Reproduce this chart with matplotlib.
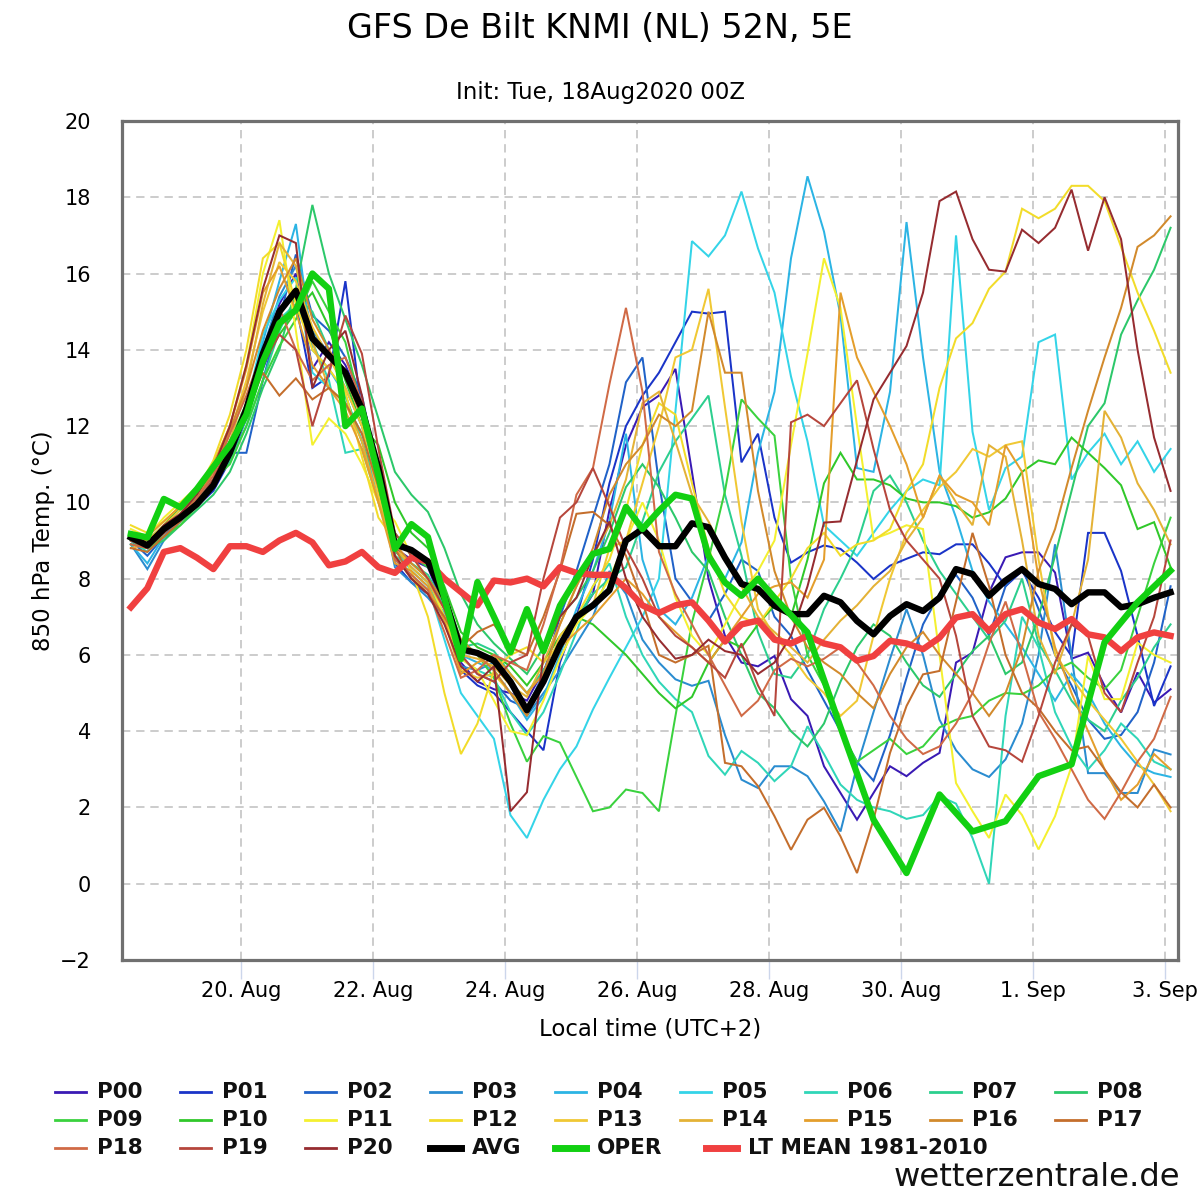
import numpy as np
import matplotlib
matplotlib.use("Agg")
import matplotlib.pyplot as plt
from matplotlib.lines import Line2D

# ---------------- texts ----------------
title = "GFS De Bilt KNMI (NL) 52N, 5E"
subtitle = "Init: Tue, 18Aug2020 00Z"
x_label = "Local time (UTC+2)"
y_label = "850 hPa Temp. (°C)"
watermark = "wetterzentrale.de"

# ---------------- time axis (hours since 18 Aug 2020 00:00 local) ----------------
utc_offset_h = 2
member_lead_h = np.arange(6, 385, 6)
oper_lead_h = np.concatenate([np.arange(6, 241, 6), np.arange(252, 385, 12)])

x_tick_hours = [48, 96, 144, 192, 240, 288, 336, 384]
x_tick_labels = ["20. Aug", "22. Aug", "24. Aug", "26. Aug", "28. Aug", "30. Aug", "1. Sep", "3. Sep"]
y_ticks = [-2, 0, 2, 4, 6, 8, 10, 12, 14, 16, 18, 20]
y_tick_labels = ["\u22122", "0", "2", "4", "6", "8", "10", "12", "14", "16", "18", "20"]

# ---------------- members ----------------
member_names = ["P00", "P01", "P02", "P03", "P04", "P05", "P06", "P07", "P08", "P09", "P10",
                "P11", "P12", "P13", "P14", "P15", "P16", "P17", "P18", "P19", "P20"]
member_colors = ["#3a1ab4", "#1a34c8", "#2062c8", "#2a8cd0", "#2cb4e4", "#34d4e8", "#30d6b8",
                 "#2ccf8e", "#2cc86a", "#3ad23e", "#30c82a", "#f4f030", "#f2dc2a", "#f0c834",
                 "#e4b236", "#e49e2c", "#d28a2c", "#c46e2c", "#d06a46", "#b6463c", "#962c30"]

p00 = [9.0, 8.8, 9.3, 9.7, 10.0, 10.5, 11.2, 12.3,
       13.8, 15.2, 16.0, 13.5, 14.2, 13.6, 12.6, 11.0,
       8.8, 8.5, 8.3, 7.2, 5.8, 5.3, 5.1, 5.0,
       4.8, 5.6, 6.3, 6.9, 7.6, 9.8, 11.5, 12.5,
       12.8, 13.5, 10.8, 8.0, 6.5, 5.8, 5.7, 5.97,
       4.84, 4.4, 3.08, 2.38, 1.68, 2.38, 3.08, 2.82,
       3.17, 3.43, 5.8, 6.06, 7.64, 8.56, 8.69, 8.69,
       8.16, 5.9, 6.06, 5.19, 4.49, 5.54, 4.75, 5.1]
p01 = [9.1, 8.9, 9.2, 9.5, 9.9, 10.3, 11.1, 12.2,
       13.5, 14.6, 15.2, 13.0, 13.3, 15.8, 12.3, 10.6,
       8.4, 7.9, 7.6, 7.0, 5.6, 5.2, 5.0, 4.5,
       4.0, 3.5, 5.8, 7.0, 8.5, 10.5, 12.0, 12.8,
       13.4, 14.2, 15.0, 14.95, 15.0, 11.05, 11.8, 9.6,
       8.42, 8.69, 8.87, 8.78, 8.42, 7.99, 8.34, 8.52,
       8.69, 8.64, 8.9, 8.9, 8.4, 7.8, 8.2, 7.5,
       6.6, 5.97, 9.2, 9.2, 8.2, 6.5, 4.66, 5.7]
p02 = [9.0, 8.6, 9.1, 9.6, 10.0, 10.6, 11.3, 11.3,
       13.2, 14.8, 16.5, 14.9, 14.5, 13.8, 12.8, 10.8,
       8.6, 8.0, 7.6, 7.4, 6.0, 5.5, 5.3, 4.8,
       4.6, 5.5, 7.0, 8.2, 9.6, 11.0, 13.15, 13.8,
       10.5, 8.0, 7.4, 6.9, 7.6, 8.5, 8.2, 7.0,
       6.5, 5.6, 4.8, 4.0, 3.2, 2.7, 3.9, 5.4,
       6.8, 7.6, 8.1, 7.5, 6.5, 7.8, 8.3, 7.2,
       6.0, 5.2, 4.3, 3.8, 3.9, 4.5, 5.8, 7.8]
p03 = [8.9, 8.25, 9.0, 9.5, 9.9, 10.5, 11.2, 12.3,
       14.0, 15.4, 16.2, 14.5, 13.9, 13.0, 12.0, 10.4,
       8.3, 7.9, 7.5, 7.0, 5.7, 5.6, 5.8, 5.2,
       4.4, 5.0, 5.6, 6.3, 7.0, 8.2, 7.6, 6.4,
       5.8, 5.36, 5.19, 5.32, 3.9, 2.73, 2.51, 3.08,
       3.08, 2.82, 2.16, 1.37, 3.08, 4.5, 5.9, 7.2,
       6.0, 4.3, 3.5, 3.0, 2.8, 3.26, 4.2, 6.0,
       8.9, 5.97, 2.9, 2.9, 2.38, 2.38, 3.52, 3.39]
p04 = [8.9, 8.4, 9.1, 9.5, 9.9, 10.4, 11.3, 12.6,
       14.2, 15.8, 17.3, 14.0, 13.5, 12.8, 11.6, 10.2,
       8.5, 8.1, 7.7, 7.1, 6.0, 5.8, 5.6, 5.0,
       4.3, 4.9, 6.0, 7.2, 8.2, 9.5, 11.8, 8.5,
       7.2, 6.8, 7.5, 8.6, 8.0, 8.95, 11.3, 12.9,
       16.4, 18.55, 17.1, 14.9, 10.9, 10.8, 12.9, 17.35,
       13.8, 10.8, 9.6, 8.2, 7.4, 6.8, 6.2, 5.5,
       4.8, 5.5, 5.0, 4.2, 3.6, 3.1, 2.9, 2.8]
p05 = [9.2, 8.8, 9.4, 9.8, 10.1, 10.6, 11.4, 12.5,
       14.4, 15.3, 15.9, 13.4, 13.0, 12.6, 11.8, 10.5,
       8.8, 8.2, 7.8, 6.4, 5.0, 4.4, 3.8, 1.8,
       1.2, 2.2, 3.0, 3.6, 4.57, 5.4, 6.2, 7.0,
       8.0, 12.4, 16.85, 16.45, 17.0, 18.15, 16.66, 15.5,
       13.3, 11.6, 9.4, 9.0, 8.6, 9.2, 9.8, 10.3,
       10.6, 10.45, 17.0, 11.85, 9.8, 10.9, 11.2, 14.2,
       14.4, 10.6, 11.3, 11.8, 11.0, 11.6, 10.8, 11.4]
p06 = [9.0, 8.7, 9.2, 9.6, 10.0, 10.4, 11.2, 12.2,
       13.6, 14.8, 15.2, 14.2, 13.2, 11.3, 11.4, 10.0,
       8.6, 8.3, 7.9, 7.0, 5.9, 5.6, 5.4, 4.5,
       3.9, 4.5, 5.5, 6.6, 7.8, 8.4, 7.0, 6.0,
       5.3, 4.84, 4.5, 3.35, 2.86, 3.48, 3.17, 2.69,
       3.08, 4.13, 3.4, 2.6, 2.2, 2.0, 1.9, 1.7,
       1.8, 2.3, 2.1, 1.2, 0.0, 4.4, 7.0, 6.2,
       4.5, 3.6, 3.0, 3.5, 4.2, 3.8, 3.2, 3.0]
p07 = [9.1, 8.9, 9.3, 9.7, 10.1, 10.5, 11.1, 12.0,
       13.2, 14.5, 15.4, 15.0, 14.0, 12.8, 11.6, 10.4,
       8.7, 8.4, 8.1, 7.3, 6.2, 6.3, 6.1, 5.5,
       5.0, 5.6, 6.2, 7.0, 7.6, 8.0, 8.3, 9.5,
       10.8, 11.6, 12.2, 12.8, 10.2, 8.6, 6.6, 5.5,
       5.4, 6.0, 7.2, 8.0, 8.9, 10.3, 10.7, 10.0,
       9.0, 8.2, 7.6, 7.0, 6.4, 6.9, 8.0, 6.3,
       5.6, 4.8, 4.3, 4.0, 4.8, 5.4, 6.2, 6.8]
p08 = [9.0, 8.8, 9.0, 9.4, 9.8, 10.2, 10.8, 11.8,
       13.0, 14.0, 15.6, 17.8, 16.0, 14.8, 13.6, 12.2,
       10.8, 10.2, 9.75, 8.8, 7.6, 6.8, 6.3, 5.9,
       5.5, 6.2, 7.0, 7.5, 8.2, 9.2, 10.4, 11.0,
       10.4, 9.6, 8.7, 8.2, 7.0, 6.0, 5.0, 4.6,
       4.0, 3.6, 4.2, 5.3, 6.2, 6.8, 6.5, 5.8,
       5.2, 4.9, 5.5, 6.1, 6.5, 5.5, 5.8, 7.0,
       8.6, 10.3, 12.0, 12.6, 14.4, 15.3, 16.1, 17.2]
p09 = [8.9, 8.8, 9.1, 9.4, 9.9, 10.6, 11.0, 12.0,
       13.2, 14.1, 14.8, 15.8, 15.0, 14.2, 12.4, 10.9,
       9.2, 8.6, 8.3, 7.6, 6.4, 6.0, 5.4, 4.2,
       3.2, 3.87, 3.7, 2.8, 1.9, 2.0, 2.47, 2.38,
       1.9, 4.4, 6.85, 8.5, 10.3, 12.7, 12.2, 11.75,
       8.0, 6.0, 5.2, 4.0, 3.2, 3.5, 3.8, 3.4,
       3.6, 4.1, 4.3, 4.4, 4.8, 5.0, 4.97, 5.2,
       5.6, 5.8, 5.4, 5.1, 5.6, 7.0, 8.4, 9.6]
p10 = [9.1, 9.0, 9.4, 9.9, 10.3, 10.9, 11.6, 12.6,
       13.7, 14.4, 15.0, 15.5, 14.6, 13.2, 12.0, 11.5,
       10.0, 9.2, 8.8, 7.8, 6.6, 6.2, 6.0, 5.7,
       5.2, 5.8, 6.5, 7.0, 6.8, 6.4, 6.0, 5.5,
       5.0, 4.6, 4.9, 5.8, 6.4, 6.2, 6.8, 7.3,
       7.0, 8.5, 10.5, 11.3, 10.6, 10.6, 10.45, 10.1,
       10.0, 10.0, 9.9, 9.6, 9.74, 10.1, 10.8, 11.1,
       11.0, 11.7, 11.3, 10.9, 10.45, 9.3, 9.48, 8.3]
p11 = [9.3, 9.1, 9.6, 10.0, 10.4, 11.0, 12.0, 13.6,
       16.0, 17.4, 14.5, 11.5, 12.2, 11.8, 11.0, 10.0,
       9.5, 8.6, 8.0, 7.0, 5.9, 5.6, 4.8, 4.0,
       3.9, 4.8, 5.9, 6.8, 7.3, 8.0, 9.0, 10.0,
       9.0, 7.5, 6.5, 6.0, 6.8, 7.6, 8.2, 9.0,
       11.5, 13.9, 16.4, 15.1, 12.0, 9.04, 9.2, 9.4,
       9.3, 6.0, 2.64, 1.9, 1.2, 2.34, 1.8, 0.9,
       1.77, 3.08, 5.97, 4.84, 4.84, 6.32, 6.0, 5.8]
p12 = [9.4, 9.2, 9.5, 9.9, 10.3, 11.1, 12.3, 14.0,
       16.4, 16.8, 15.2, 14.0, 13.5, 12.9, 11.2, 9.6,
       9.0, 8.2, 7.0, 5.0, 3.4, 4.2, 5.6, 6.0,
       6.2, 5.8, 6.3, 7.0, 7.8, 8.5, 9.8, 11.5,
       12.6, 12.3, 10.5, 8.8, 7.6, 7.0, 6.8, 7.4,
       8.0, 8.8, 9.2, 8.6, 8.9, 9.0, 9.3, 10.3,
       11.0, 13.0, 14.3, 14.7, 15.6, 16.05, 17.7, 17.45,
       17.7, 18.3, 18.3, 17.9, 16.7, 15.5, 14.5, 13.4]
p13 = [9.2, 9.0, 9.4, 9.8, 10.2, 10.9, 11.8, 13.2,
       15.0, 16.3, 15.8, 14.6, 13.8, 13.0, 12.0, 10.2,
       8.6, 8.0, 7.7, 7.0, 5.6, 5.4, 5.5, 5.0,
       4.6, 5.4, 6.5, 7.0, 7.3, 8.8, 9.0, 10.5,
       12.0, 13.8, 14.0, 15.6, 12.5, 9.5, 7.2, 6.5,
       6.0, 5.4, 5.0, 4.4, 4.8, 6.5, 8.0, 9.2,
       9.8, 10.4, 10.8, 11.4, 11.2, 11.5, 11.6, 8.5,
       6.0, 5.4, 4.8, 4.3, 3.8, 3.2, 2.6, 1.9]
p14 = [8.8, 8.9, 9.2, 9.6, 10.0, 10.5, 11.6, 13.0,
       15.2, 16.8, 16.2, 14.2, 13.0, 12.6, 11.6, 10.0,
       8.8, 8.3, 7.9, 7.2, 6.0, 5.9, 5.7, 5.2,
       4.9, 5.8, 6.8, 7.8, 8.6, 9.4, 10.6, 12.6,
       12.9, 11.6, 10.2, 9.5, 8.6, 7.8, 7.0, 6.6,
       6.2, 5.8, 6.4, 6.9, 7.3, 7.8, 8.2, 9.0,
       9.6, 10.7, 10.0, 9.4, 11.5, 11.2, 9.0, 6.5,
       5.5, 6.8, 8.5, 12.4, 11.7, 10.5, 9.8, 8.9]
p15 = [9.0, 9.1, 9.5, 9.9, 10.3, 11.0, 12.0, 13.5,
       15.5, 16.2, 15.0, 13.6, 13.0, 12.4, 11.4, 10.0,
       8.4, 8.2, 7.8, 6.9, 5.5, 5.8, 6.0, 5.5,
       5.0, 5.5, 6.2, 6.6, 7.0, 7.5, 8.0, 7.6,
       7.0, 6.6, 6.2, 5.8, 6.4, 7.0, 7.6, 7.8,
       7.9, 7.5, 8.5, 15.5, 13.8, 12.9, 12.0, 11.0,
       9.6, 10.7, 10.2, 10.0, 9.4, 11.5, 10.8, 8.0,
       6.2, 5.0, 4.0, 3.0, 2.2, 2.6, 3.4, 3.0]
p16 = [9.1, 9.0, 9.3, 9.7, 10.1, 10.8, 11.9, 13.0,
       14.5, 15.6, 16.4, 14.8, 14.0, 13.3, 12.2, 10.6,
       8.9, 8.4, 8.0, 7.4, 6.4, 6.0, 5.6, 5.0,
       4.4, 5.5, 6.8, 7.8, 8.8, 10.2, 11.0, 11.5,
       12.3, 12.0, 12.4, 15.0, 13.4, 13.4, 10.3, 8.2,
       7.0, 6.2, 5.8, 5.5, 5.0, 4.6, 5.5, 6.2,
       6.6, 6.0, 5.5, 5.0, 4.4, 5.0, 6.2, 8.2,
       9.3, 10.9, 12.4, 13.8, 15.1, 16.7, 17.0, 17.5]
p17 = [8.8, 8.7, 9.1, 9.5, 10.0, 10.6, 11.6, 12.4,
       13.4, 12.8, 13.25, 12.7, 13.0, 12.6, 11.8, 10.4,
       8.8, 8.0, 7.6, 7.0, 6.2, 6.6, 6.8, 6.2,
       6.0, 7.0, 8.2, 9.7, 9.75, 9.4, 8.6, 7.4,
       6.0, 5.8, 6.0, 6.24, 3.17, 3.08, 2.56, 1.77,
       0.89, 1.68, 1.99, 1.24, 0.28, 1.68, 3.43, 4.66,
       5.49, 5.58, 7.4, 9.2, 7.8, 6.0, 5.0, 4.6,
       4.0, 3.5, 3.6, 3.0, 2.4, 2.0, 2.6, 2.0]
p18 = [8.9, 8.8, 9.2, 9.6, 10.1, 10.7, 11.8, 12.8,
       14.0, 15.1, 14.0, 13.2, 13.6, 13.8, 12.6, 10.8,
       8.5, 8.1, 7.7, 6.6, 5.4, 5.6, 6.0, 5.8,
       5.6, 6.8, 8.25, 10.2, 10.9, 13.1, 15.1, 12.9,
       8.7, 7.6, 6.8, 6.0, 5.2, 4.4, 4.8, 5.6,
       5.9, 5.7, 5.9, 6.2, 5.8, 5.2, 4.4, 3.8,
       3.4, 3.6, 4.2, 5.0, 6.3, 7.4, 6.0, 4.5,
       3.8, 3.0, 2.2, 1.7, 2.4, 3.2, 3.8, 4.9]
p19 = [9.0, 8.8, 9.2, 9.6, 10.0, 10.6, 11.5, 12.4,
       13.6, 14.4, 14.0, 12.0, 13.4, 14.9, 13.9, 11.4,
       9.2, 8.6, 8.0, 7.2, 6.0, 5.5, 5.3, 5.8,
       6.0, 8.0, 9.6, 10.0, 10.9, 9.9, 8.8, 8.0,
       7.0, 6.5, 6.2, 5.8, 5.4, 6.3, 5.2, 4.4,
       12.1, 12.3, 12.0, 12.6, 13.2, 11.4, 9.8, 9.0,
       8.5, 8.0, 6.5, 4.4, 3.6, 3.5, 3.2, 4.4,
       5.8, 6.8, 6.5, 5.0, 4.5, 5.8, 7.0, 9.0]
p20 = [9.1, 8.9, 9.4, 9.7, 10.2, 10.9, 12.0, 13.6,
       15.6, 17.0, 16.8, 13.0, 14.0, 14.5, 12.8, 10.6,
       8.6, 8.0, 7.6, 6.8, 5.7, 5.3, 5.7, 1.9,
       2.4, 6.0, 7.0, 7.5, 8.6, 9.5, 8.0, 7.0,
       6.4, 5.9, 6.0, 6.4, 6.1, 6.0, 5.5, 5.8,
       6.5, 7.8, 9.47, 9.5, 11.1, 12.7, 13.4, 14.1,
       15.5, 17.9, 18.15, 16.9, 16.1, 16.05, 17.15, 16.8,
       17.2, 18.2, 16.6, 18.0, 16.9, 14.0, 11.7, 10.3]

members = [p00, p01, p02, p03, p04, p05, p06, p07, p08, p09, p10,
           p11, p12, p13, p14, p15, p16, p17, p18, p19, p20]

avg = [9.08, 8.87, 9.3, 9.6, 9.95, 10.45, 11.3, 12.45,
       13.9, 15.0, 15.55, 14.3, 13.85, 13.4, 12.45, 10.9,
       8.9, 8.75, 8.45, 7.5, 6.15, 6.05, 5.85, 5.3,
       4.55, 5.3, 6.25, 7.0, 7.3, 7.7, 9.0, 9.3,
       8.85, 8.85, 9.45, 9.35, 8.55, 7.86, 7.73, 7.29,
       7.07, 7.07, 7.55, 7.38, 6.89, 6.54, 7.02, 7.33,
       7.15, 7.5, 8.25, 8.12, 7.55, 7.95, 8.25, 7.86,
       7.73, 7.33, 7.64, 7.64, 7.25, 7.33, 7.5, 7.64]

oper = [9.17, 9.08, 10.09, 9.87, 10.35, 10.93, 11.5, 12.3,
        13.7, 14.7, 15.04, 16.0, 15.6, 12.0, 12.46, 10.7,
        8.78, 9.43, 9.09, 7.5, 5.89, 7.91, 7.0, 6.07,
        7.2, 6.1, 7.29, 8.0, 8.65, 8.78, 9.88, 9.3,
        9.78, 10.2, 10.1, 8.6, 7.9, 7.55, 8.0, 7.5,
        6.59, 4.1, 1.68, 0.28, 2.34, 1.37, 1.64, 2.82,
        3.13, 6.33, 7.38, 8.21]

lt_mean = [7.25, 7.75, 8.7, 8.8, 8.55, 8.25, 8.85, 8.85,
           8.7, 9.0, 9.2, 8.95, 8.35, 8.45, 8.7, 8.3,
           8.15, 8.55, 8.45, 8.0, 7.65, 7.3, 7.95, 7.9,
           8.0, 7.8, 8.3, 8.15, 8.1, 8.1, 7.75, 7.3,
           7.1, 7.3, 7.38, 6.9, 6.35, 6.8, 6.9, 6.4,
           6.3, 6.5, 6.3, 6.2, 5.85, 5.97, 6.37, 6.3,
           6.15, 6.45, 6.98, 7.07, 6.63, 7.07, 7.2, 6.85,
           6.68, 6.94, 6.54, 6.46, 6.1, 6.46, 6.59, 6.5]

special_names = ["AVG", "OPER", "LT MEAN 1981-2010"]
special_colors = ["#000000", "#12d012", "#f04040"]

# ---------------- figure ----------------
W, H = 1200, 1200
fig = plt.figure(figsize=(12, 12), dpi=100)
fig.patch.set_facecolor("white")

def fx(px):
    return px / W

def fy(py):
    return 1 - py / H

ax = fig.add_axes([fx(121.5), fy(960), fx(1178) - fx(121.5), fy(121) - fy(960)])

x_members = member_lead_h + utc_offset_h
x_oper = oper_lead_h + utc_offset_h

for vals, col in zip(members, member_colors):
    ax.plot(x_members, vals, color=col, lw=1.45, zorder=2, solid_joinstyle="miter")

ax.plot(x_members, lt_mean, color=special_colors[2], lw=4.6, zorder=4)
ax.plot(x_members, avg, color=special_colors[0], lw=4.6, zorder=5)
ax.plot(x_oper, oper, color=special_colors[1], lw=4.6, zorder=6)

ax.set_xlim(4.6, 388.7)
ax.set_ylim(-2, 20)
ax.set_xticks(x_tick_hours)
ax.set_xticklabels(x_tick_labels, fontsize=15)
ax.set_yticks(y_ticks)
ax.set_yticklabels(y_tick_labels, fontsize=15)

ax.grid(True, color="#c4c4c4", linestyle=(0, (5, 3.5)), linewidth=1.2, zorder=0)
ax.set_axisbelow(True)
for s in ax.spines.values():
    s.set_color("#707070")
    s.set_linewidth(2.3)
    s.set_zorder(10)

ax.tick_params(axis="y", length=0, pad=22)
ax.tick_params(axis="x", length=14, width=1.0, color="#ccd6eb", pad=1)

ax.set_xlabel(x_label, fontsize=16.5, labelpad=12)
ax.set_ylabel(y_label, fontsize=16.5, labelpad=4)

fig.text(0.5, fy(28), title, ha="center", va="center", fontsize=24)
fig.text(0.5, fy(92), subtitle, ha="center", va="center", fontsize=16.5)

# ---------------- legend (row-wise, Highcharts-like) ----------------
legend_names = member_names + special_names
legend_colors = member_colors + special_colors
for i, (name, col) in enumerate(zip(legend_names, legend_colors)):
    row, colno = divmod(i, 9)
    tx = 97 + 125 * colno
    if name.startswith("LT"):
        tx = 748
    ty = 1092 + 28 * row
    lw = 5.0 if name in special_names else 2.0
    fig.add_artist(Line2D([fx(tx - 42), fx(tx - 11)], [fy(ty), fy(ty)],
                          color=col, lw=lw, transform=fig.transFigure))
    fig.text(fx(tx), fy(ty), name, ha="left", va="center", fontsize=15.5,
             fontweight="bold", color="#111111")

fig.text(fx(1180), fy(1178), watermark, ha="right", va="center", fontsize=23.2, color="#111111")

fig.savefig("out.png", dpi=100, facecolor="white")
